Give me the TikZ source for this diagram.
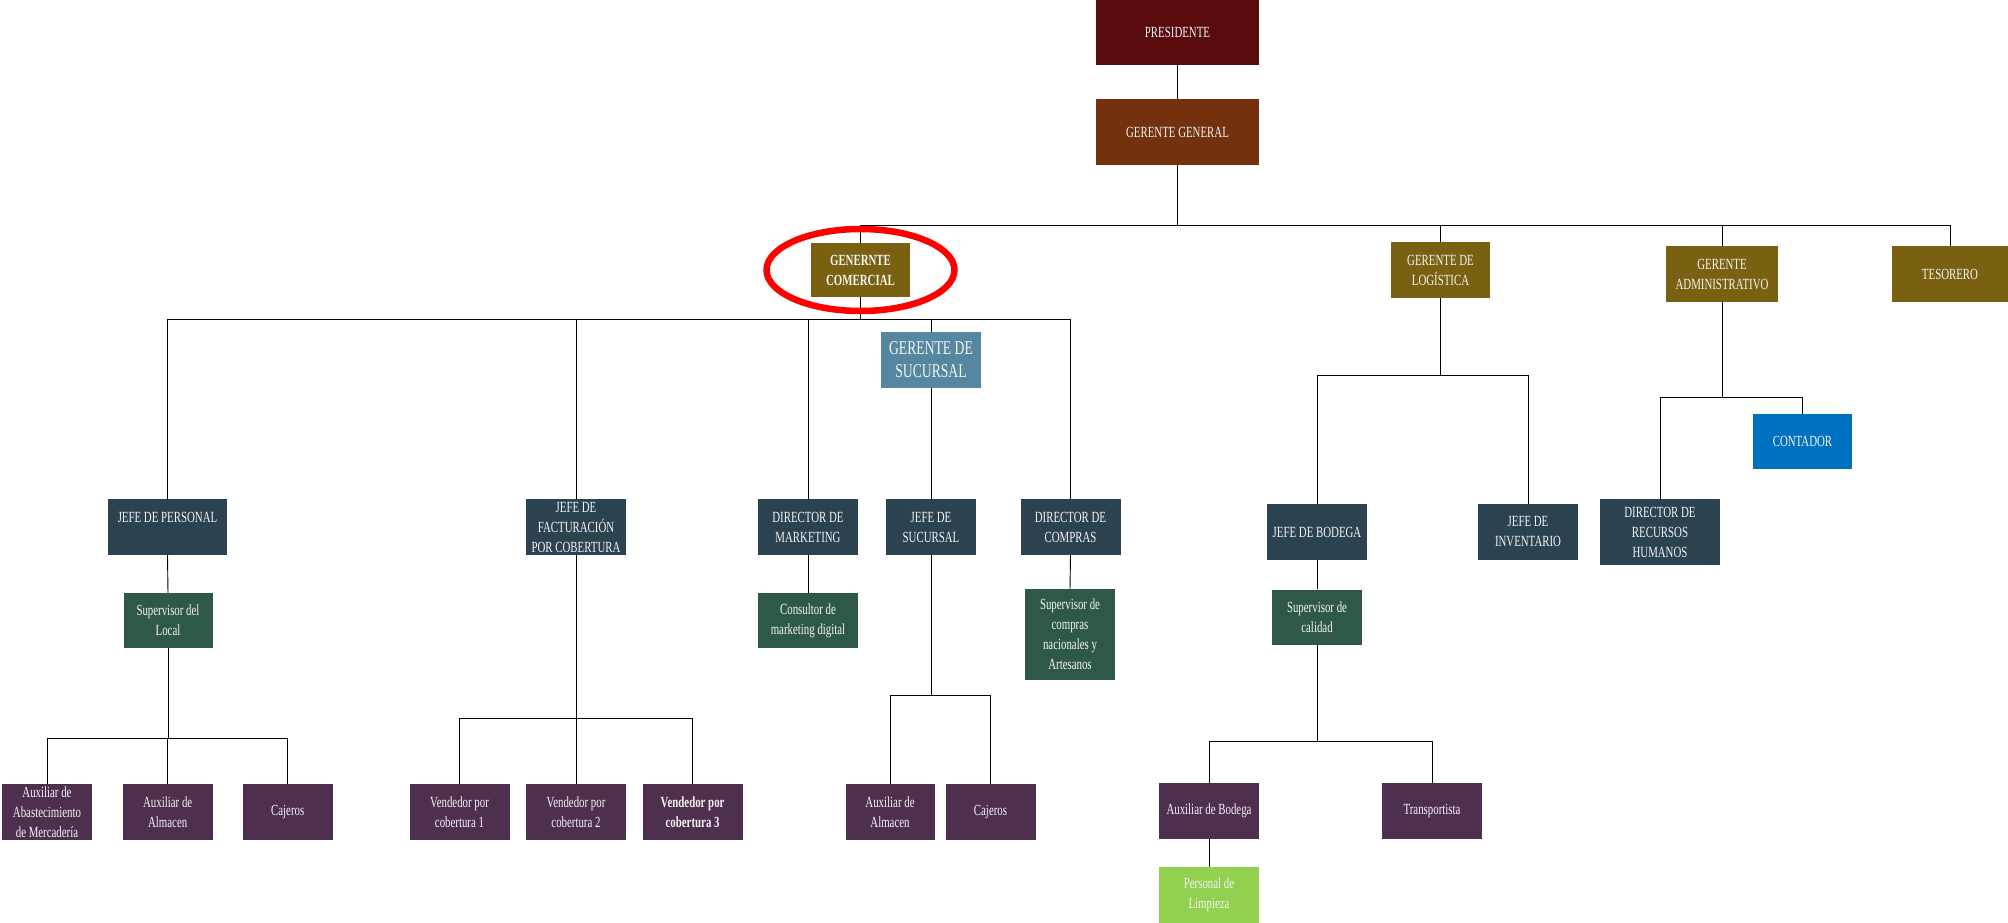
\documentclass[tikz,border=0pt]{standalone}
\usepackage{fontspec}
\setmainfont{Liberation Serif}[FakeStretch=0.70]
\usetikzlibrary{calc}
\definecolor{cpres}{HTML}{580A0C}
\definecolor{cgg}{HTML}{74310D}
\definecolor{colive}{HTML}{7A6112}
\definecolor{csteel}{HTML}{5687A0}
\definecolor{cslate}{HTML}{2B4350}
\definecolor{cgreen}{HTML}{2E5946}
\definecolor{cpurple}{HTML}{4F2F4E}
\definecolor{cblue}{HTML}{0070C0}
\definecolor{clight}{HTML}{92D050}
\definecolor{ctext}{HTML}{F4F4F4}
\tikzset{
  orgbox/.style={draw=none, text=ctext, align=center, inner sep=0pt,
    font=\fontsize{15.5}{20}\selectfont, minimum width=100pt, minimum height=56pt},
  presbox/.style={orgbox, fill=cpres, minimum width=163pt, minimum height=65pt},
  ggbox/.style={orgbox, fill=cgg, minimum width=163pt, minimum height=66pt},
  olivebox/.style={orgbox, fill=colive},
  steelbox/.style={orgbox, fill=csteel, font=\fontsize{19.5}{23}\selectfont},
  slatebox/.style={orgbox, fill=cslate},
  greenbox/.style={orgbox, fill=cgreen, minimum height=55pt},
  purplebox/.style={orgbox, fill=cpurple},
  bluebox/.style={orgbox, fill=cblue, minimum width=99pt, minimum height=55pt},
  lightbox/.style={orgbox, fill=clight},
  conn/.style={draw=black, line width=0.9pt},
  hl/.style={draw=red, line width=6.5pt}
}
\begin{document}
\begin{tikzpicture}[x=1pt,y=-1pt]
\useasboundingbox (0,0) rectangle (2008,923);
% top levels
\node[presbox] (pres) at (1177.5,32.5) {PRESIDENTE};
\node[ggbox] (gg) at (1177.5,132) {GERENTE GENERAL};
\node[olivebox, minimum width=99pt, minimum height=54pt, font=\fontsize{15.5}{20}\selectfont\bfseries] (gc) at (860.5,270) {GENERNTE\\COMERCIAL};
\node[olivebox, minimum width=99pt] (gl) at (1440.5,270) {GERENTE DE\\LOGÍSTICA};
\node[olivebox, minimum width=112pt] (ga) at (1722,274) {GERENTE\\ADMINISTRATIVO};
\node[olivebox, minimum width=116pt] (tes) at (1950,274) {TESORERO};
% comercial branch
\node[steelbox] (gs) at (931,360) {GERENTE DE\\SUCURSAL};
\node[slatebox, minimum width=119pt] (jp) at (167.5,527) {JEFE DE PERSONAL\\[-6pt]\strut};
\node[slatebox] (jf) at (576,527) {JEFE DE\\FACTURACIÓN\\POR COBERTURA};
\node[slatebox] (dm) at (808,527) {DIRECTOR DE\\MARKETING};
\node[slatebox, minimum width=90pt] (js) at (931,527) {JEFE DE\\SUCURSAL};
\node[slatebox] (dc) at (1070.5,527) {DIRECTOR DE\\COMPRAS};
\node[greenbox, minimum width=89pt] (sl) at (168,620.5) {Supervisor del\\Local};
\node[greenbox] (cmd) at (808,620.5) {Consultor de\\marketing digital};
\node[greenbox, minimum width=90pt, minimum height=91pt] (scn) at (1070,634.5) {Supervisor de\\compras\\nacionales y\\Artesanos};
\node[purplebox, minimum width=90pt] (aam) at (47,812) {Auxiliar de\\Abastecimiento\\de Mercadería};
\node[purplebox, minimum width=90pt] (aal) at (167.7,812) {Auxiliar de\\Almacen};
\node[purplebox, minimum width=90pt] (caj) at (287.7,812) {Cajeros};
\node[purplebox] (v1) at (459.5,812) {Vendedor por\\cobertura 1};
\node[purplebox] (v2) at (576,812) {Vendedor por\\cobertura 2};
\node[purplebox, font=\fontsize{15.5}{20}\selectfont\bfseries] (v3) at (692.6,812) {Vendedor por\\cobertura 3};
\node[purplebox, minimum width=89pt] (aa2) at (890,812) {Auxiliar de\\Almacen};
\node[purplebox, minimum width=90pt] (caj2) at (990.5,812) {Cajeros};
% logistica branch
\node[slatebox] (jb) at (1317,532) {JEFE DE BODEGA};
\node[slatebox] (ji) at (1528,532) {JEFE DE\\INVENTARIO};
\node[greenbox, minimum width=90pt] (sc) at (1317,617) {Supervisor de\\calidad};
\node[purplebox] (ab) at (1209,811) {Auxiliar de Bodega};
\node[purplebox] (tr) at (1432,811) {Transportista};
\node[lightbox] (pl) at (1209,895) {Personal de\\Limpieza};
% administrativo branch
\node[slatebox, minimum width=120pt, minimum height=66pt] (drh) at (1660,532) {DIRECTOR DE\\RECURSOS\\HUMANOS};
\node[bluebox] (cont) at (1802.5,441.5) {CONTADOR};
% bus levels
\coordinate (yA) at (0,225);
\coordinate (yB) at (0,319);
\coordinate (yC) at (0,695);
\coordinate (yD) at (0,738);
\coordinate (yE) at (0,718);
\coordinate (yF) at (0,375);
\coordinate (yG) at (0,741);
\coordinate (yH) at (0,397);
% connectors
\draw[conn] (pres.south) -- (gg.north);
\draw[conn] (gg.south) -- (gg.south |- yA);
\draw[conn] (gc.north) |- (yA -| tes.north) -- (tes.north);
\draw[conn] (gl.north) -- (gl.north |- yA);
\draw[conn] (ga.north) -- (ga.north |- yA);
\draw[conn] (gc.south) -- (gc.south |- yB);
\draw[conn] (jp.north) |- (yB -| dc.north) -- (dc.north);
\draw[conn] (jf.north) -- (jf.north |- yB);
\draw[conn] (dm.north) -- (dm.north |- yB);
\draw[conn] (gs.north) -- (gs.north |- yB);
\draw[conn] (gs.south) -- (js.north);
\draw[conn] (js.south) -- (js.south |- yC);
\draw[conn] (aa2.north) |- (yC -| caj2.north) -- (caj2.north);
\draw[conn] (jp.south) -- (sl.north);
\draw[conn] (sl.south) -- (sl.south |- yD);
\draw[conn] (aam.north) |- (yD -| caj.north) -- (caj.north);
\draw[conn] (aal.north) -- (aal.north |- yD);
\draw[conn] (jf.south) -- (jf.south |- yE);
\draw[conn] (v1.north) |- (yE -| v3.north) -- (v3.north);
\draw[conn] (v2.north) -- (v2.north |- yE);
\draw[conn] (dm.south) -- (cmd.north);
\draw[conn] (dc.south) -- (scn.north);
\draw[conn] (gl.south) -- (gl.south |- yF);
\draw[conn] (jb.north) |- (yF -| ji.north) -- (ji.north);
\draw[conn] (jb.south) -- (sc.north);
\draw[conn] (sc.south) -- (sc.south |- yG);
\draw[conn] (ab.north) |- (yG -| tr.north) -- (tr.north);
\draw[conn] (ab.south) -- (pl.north);
\draw[conn] (ga.south) -- (ga.south |- yH);
\draw[conn] (drh.north) |- (yH -| cont.north) -- (cont.north);
% highlight
\draw[hl] (gc.center) ellipse [x radius=94, y radius=41];
\end{tikzpicture}
\end{document}
